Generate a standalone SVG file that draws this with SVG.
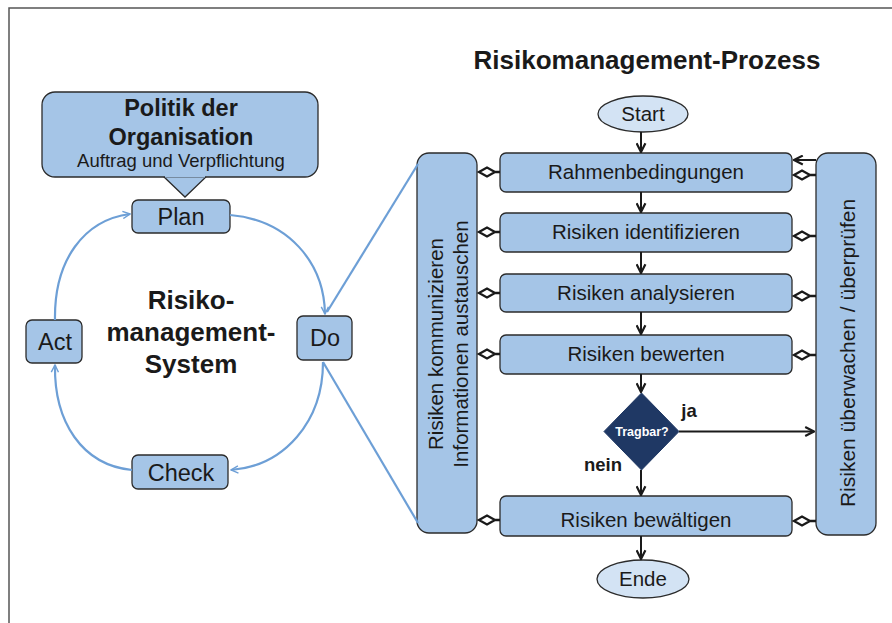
<svg xmlns="http://www.w3.org/2000/svg" width="892" height="623" viewBox="0 0 892 623">
<style>
.box{fill:#a5c5e7;stroke:#2b2b2b;stroke-width:1.3}
.ell{fill:#d3e3f4;stroke:#2b2b2b;stroke-width:1.3}
.t{font-family:"Liberation Sans",Arial,sans-serif;fill:#1a1a1a;text-anchor:middle}
.b{font-weight:bold}
.blue{fill:none;stroke:#6d9fd6;stroke-width:2.2}
.blk{fill:none;stroke:#1a1a1a;stroke-width:2}
.dia{fill:#fff;stroke:#1a1a1a;stroke-width:2.3}
</style>
<defs>
<marker id="ab" viewBox="0 0 10 10" refX="9" refY="5" markerWidth="9" markerHeight="9" markerUnits="userSpaceOnUse" orient="auto">
<path d="M1,1 L9,5 L1,9" fill="none" stroke="#6d9fd6" stroke-width="1.6"/>
</marker>
<marker id="ak" viewBox="0 0 10 10" refX="9" refY="5" markerWidth="11" markerHeight="11" markerUnits="userSpaceOnUse" orient="auto">
<path d="M1,1 L9,5 L1,9" fill="none" stroke="#1a1a1a" stroke-width="2"/>
</marker>
</defs>
<rect width="892" height="623" fill="#fff"/>
<path d="M9,623 V8 H892" fill="none" stroke="#555" stroke-width="1.5"/>

<g id="politik">
<path d="M163,176 L185,197 L207,176 Z" class="box"/>
<rect x="42" y="92" width="276" height="85" rx="13" class="box"/>
<path d="M165,176.5 L205,176.5" stroke="#a5c5e7" stroke-width="2"/>
<text x="181" y="116" class="t b" font-size="23.5">Politik der</text>
<text x="181" y="145" class="t b" font-size="23.5">Organisation</text>
<text x="181" y="167" class="t" font-size="18.5">Auftrag und Verpflichtung</text>
</g>
<g id="plan"><rect x="132" y="200" width="98" height="33" rx="6" class="box"/><text x="181" y="225" class="t" font-size="23.5">Plan</text></g>
<g id="act"><rect x="26" y="320" width="56" height="43" rx="6" class="box"/><text x="55" y="350" class="t" font-size="23.5">Act</text></g>
<g id="do"><rect x="297" y="316" width="55" height="44" rx="6" class="box"/><text x="325" y="346" class="t" font-size="23.5">Do</text></g>
<g id="check"><rect x="132" y="455" width="96" height="34" rx="6" class="box"/><text x="181" y="481" class="t" font-size="23.5">Check</text></g>
<g id="system">
<text x="191" y="309" class="t b" font-size="26">Risiko-</text>
<text x="191" y="341" class="t b" font-size="26">management-</text>
<text x="191" y="373" class="t b" font-size="26">System</text>
</g>

<text x="647" y="69" class="t b" font-size="26">Risikomanagement-Prozess</text>

<g id="start"><ellipse cx="643" cy="114" rx="45" ry="18" class="ell"/><text x="643" y="121" class="t" font-size="20.5">Start</text></g>
<g id="kommunizieren"><rect x="417" y="153" width="60" height="380" rx="12" class="box"/>
<text transform="translate(443,344) rotate(-90)" class="t" font-size="20.5">Risiken kommunizieren</text>
<text transform="translate(468,344) rotate(-90)" class="t" font-size="20.5">Informationen austauschen</text></g>
<g id="ueberwachen"><rect x="816" y="153" width="60" height="382" rx="12" class="box"/>
<text transform="translate(855,353) rotate(-90)" class="t" font-size="21">Risiken überwachen / überprüfen</text></g>
<g id="rahmen"><rect x="500" y="153" width="292" height="39" rx="6" class="box"/><text x="646" y="179" class="t" font-size="20.5">Rahmenbedingungen</text></g>
<g id="identifizieren"><rect x="500" y="213" width="292" height="39" rx="6" class="box"/><text x="646" y="239" class="t" font-size="20.5">Risiken identifizieren</text></g>
<g id="analysieren"><rect x="500" y="274" width="292" height="38" rx="6" class="box"/><text x="646" y="300" class="t" font-size="20.5">Risiken analysieren</text></g>
<g id="bewerten"><rect x="500" y="335" width="292" height="39" rx="6" class="box"/><text x="646" y="361" class="t" font-size="20.5">Risiken bewerten</text></g>
<g id="tragbar"><path d="M641.5,393 L679,431.5 L641.5,470 L604,431.5 Z" fill="#1f3864" stroke="#1f3864"/><text x="642" y="436" class="t b" font-size="12.5" style="fill:#fff">Tragbar?</text></g>
<g id="bewaeltigen"><rect x="500" y="496" width="292" height="40" rx="6" class="box"/><text x="646" y="527" class="t" font-size="20.5">Risiken bewältigen</text></g>
<g id="ende"><ellipse cx="643" cy="579" rx="46" ry="19" class="ell"/><text x="643" y="586" class="t" font-size="20.5">Ende</text></g>

<g id="connectors">
<path d="M230,215 C288,220 324,262 325,314" class="blue" marker-end="url(#ab)"/>
<path d="M323,362 C323,422 284,466 231,470" class="blue" marker-end="url(#ab)"/>
<path d="M132,470 C82,465 54,422 55,365" class="blue" marker-end="url(#ab)"/>
<path d="M55,320 C54,260 84,220 130,214" class="blue" marker-end="url(#ab)"/>
<path d="M327,312 L418,164" class="blue"/>
<path d="M323,362 L418,523" class="blue"/>

<path d="M641,132 V152" class="blk" marker-end="url(#ak)"/>
<path d="M641,192 V212" class="blk" marker-end="url(#ak)"/>
<path d="M641,252 V273" class="blk" marker-end="url(#ak)"/>
<path d="M641,312 V334" class="blk" marker-end="url(#ak)"/>
<path d="M641,374 V392" class="blk" marker-end="url(#ak)"/>
<path d="M641,470 V495" class="blk" marker-end="url(#ak)"/>
<path d="M641,536 V559" class="blk" marker-end="url(#ak)"/>
<path d="M679,431.5 H814" class="blk" marker-end="url(#ak)"/>
<path d="M816,160 H794" class="blk" marker-end="url(#ak)"/>

<g id="diamonds-left">
<path d="M479,172 L487,167.5 L495,172 L487,176.5 Z M495,172 H500" class="dia"/>
<path d="M479,232 L487,227.5 L495,232 L487,236.5 Z M495,232 H500" class="dia"/>
<path d="M479,293 L487,288.5 L495,293 L487,297.5 Z M495,293 H500" class="dia"/>
<path d="M479,354 L487,349.5 L495,354 L487,358.5 Z M495,354 H500" class="dia"/>
<path d="M479,520 L487,515.5 L495,520 L487,524.5 Z M495,520 H500" class="dia"/>
</g>
<g id="diamonds-right">
<path d="M794,175 L802,170.5 L810,175 L802,179.5 Z M810,175 H816" class="dia"/>
<path d="M794,236 L802,231.5 L810,236 L802,240.5 Z M810,236 H816" class="dia"/>
<path d="M794,296 L802,291.5 L810,296 L802,300.5 Z M810,296 H816" class="dia"/>
<path d="M794,355 L802,350.5 L810,355 L802,359.5 Z M810,355 H816" class="dia"/>
<path d="M794,521 L802,516.5 L810,521 L802,525.5 Z M810,521 H816" class="dia"/>
</g>
</g>
<text x="689" y="417" class="t b" font-size="18.5">ja</text>
<text x="603" y="471" class="t b" font-size="18.5">nein</text>
</svg>
